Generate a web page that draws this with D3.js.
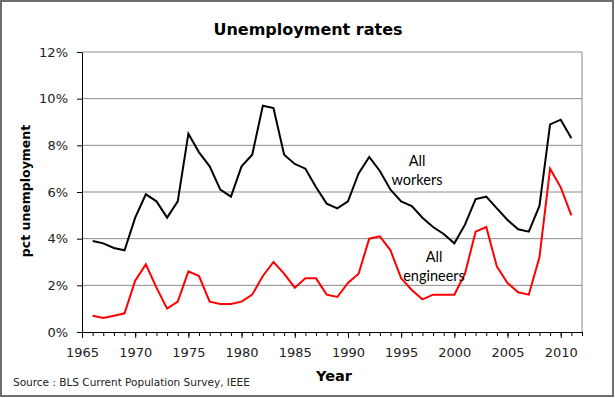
<!DOCTYPE html>
<html>
<head>
<meta charset="utf-8">
<script src="https://d3js.org/d3.v7.min.js"></script>
<style>
body { margin: 0; background: #fff; }
.tick text { font-family: "DejaVu Sans", Verdana, sans-serif; font-size: 13px; fill: #222; }
.domain, .tick line { stroke: #000; }
.grid line { stroke: #8c8c8c; stroke-width: 1; }
.title { font-family: "DejaVu Sans", Verdana, sans-serif; font-weight: bold; }
.note { font-family: Lato, "Open Sans", sans-serif; font-size: 14.5px; fill: #000; }
</style>
</head>
<body>
<svg width="615" height="398"></svg>
<script>
// years on the x axis
const years = [1966, 1967, 1968, 1969, 1970, 1971, 1972, 1973, 1974, 1975,
  1976, 1977, 1978, 1979, 1980, 1981, 1982, 1983, 1984, 1985,
  1986, 1987, 1988, 1989, 1990, 1991, 1992, 1993, 1994, 1995,
  1996, 1997, 1998, 1999, 2000, 2001, 2002, 2003, 2004, 2005,
  2006, 2007, 2008, 2009, 2010, 2011];

// unemployment, percent
const allWorkers = [3.9, 3.8, 3.6, 3.5, 4.9, 5.9, 5.6, 4.9, 5.6, 8.5,
  7.7, 7.1, 6.1, 5.8, 7.1, 7.6, 9.7, 9.6, 7.6, 7.2,
  7.0, 6.2, 5.5, 5.3, 5.6, 6.8, 7.5, 6.9, 6.1, 5.6,
  5.4, 4.9, 4.5, 4.2, 3.8, 4.6, 5.7, 5.8, 5.3, 4.8,
  4.4, 4.3, 5.4, 8.9, 9.1, 8.3];

const allEngineers = [0.7, 0.6, 0.7, 0.8, 2.2, 2.9, 1.9, 1.0, 1.3, 2.6,
  2.4, 1.3, 1.2, 1.2, 1.3, 1.6, 2.4, 3.0, 2.5, 1.9,
  2.3, 2.3, 1.6, 1.5, 2.1, 2.5, 4.0, 4.1, 3.5, 2.3,
  1.8, 1.4, 1.6, 1.6, 1.6, 2.5, 4.3, 4.5, 2.8, 2.1,
  1.7, 1.6, 3.2, 7.0, 6.2, 5.0];

const yTicks = [0, 2, 4, 6, 8, 10, 12];
const xTicks = [1965, 1970, 1975, 1980, 1985, 1990, 1995, 2000, 2005, 2010];

const svg = d3.select('svg');
const plotLeft = 82, plotRight = 582, plotTop = 52, plotBottom = 332;

const x = d3.scaleLinear().domain([1965, 2012]).range([plotLeft, plotRight]);
const y = d3.scaleLinear().domain([0, 12]).range([plotBottom, plotTop]);

// outer frame
svg.append('rect')
    .attr('x', 1).attr('y', 1).attr('width', 612).attr('height', 395)
    .attr('fill', '#fff').attr('stroke', '#6e6e6e').attr('stroke-width', 2);

// gridlines
svg.append('g').attr('class', 'grid')
  .selectAll('line').data(yTicks.filter(d => d > 0))
  .enter().append('line')
    .attr('x1', plotLeft).attr('x2', plotRight)
    .attr('y1', d => y(d)).attr('y2', d => y(d));

// plot area right edge
svg.append('line')
    .attr('x1', plotRight).attr('x2', plotRight).attr('y1', plotTop).attr('y2', plotBottom)
    .attr('stroke', '#8c8c8c');

// minor year ticks
svg.append('g')
    .attr('transform', `translate(0,${plotBottom})`)
    .call(d3.axisBottom(x).tickValues(d3.range(1965, 2013)).tickSize(4).tickFormat(''))
    .call(g => g.select('.domain').remove());

// x axis
svg.append('g')
    .attr('transform', `translate(0,${plotBottom})`)
    .call(d3.axisBottom(x).tickValues(xTicks).tickSize(6).tickSizeOuter(0).tickPadding(10).tickFormat(d3.format('d')));

// y axis
svg.append('g')
    .attr('transform', `translate(${plotLeft},0)`)
    .call(d3.axisLeft(y).tickValues(yTicks).tickSize(5).tickSizeOuter(0).tickPadding(9).tickFormat(d => d + '%'));

const line = series => d3.line()
    .x((d, i) => x(years[i]))
    .y(d => y(d))(series);

svg.append('path')
    .attr('d', line(allWorkers))
    .attr('fill', 'none').attr('stroke', '#000').attr('stroke-width', 2);

svg.append('path')
    .attr('d', line(allEngineers))
    .attr('fill', 'none').attr('stroke', '#ff0000').attr('stroke-width', 2);

// labels
svg.append('text').attr('class', 'title')
    .attr('x', 308).attr('y', 35).attr('text-anchor', 'middle')
    .style('font-size', '16px').text('Unemployment rates');

svg.append('text').attr('class', 'title')
    .attr('x', 334).attr('y', 381).attr('text-anchor', 'middle')
    .style('font-size', '14.5px').text('Year');

svg.append('text').attr('class', 'title')
    .attr('transform', 'translate(30,191) rotate(-90)').attr('text-anchor', 'middle')
    .style('font-size', '12.5px').text('pct unemployment');

svg.append('text')
    .attr('x', 13).attr('y', 386)
    .style('font-family', '"DejaVu Sans", Verdana, sans-serif')
    .style('font-size', '10.5px').style('fill', '#222')
    .text('Source : BLS Current Population Survey, IEEE');

const note = (cx, cy, lines) => {
  const t = svg.append('text').attr('class', 'note').attr('text-anchor', 'middle');
  lines.forEach((s, i) => t.append('tspan').attr('x', cx).attr('y', cy + i * 19).text(s));
};
note(417, 166, ['All', 'workers']);
note(434, 262, ['All', 'engineers']);
</script>
</body>
</html>
